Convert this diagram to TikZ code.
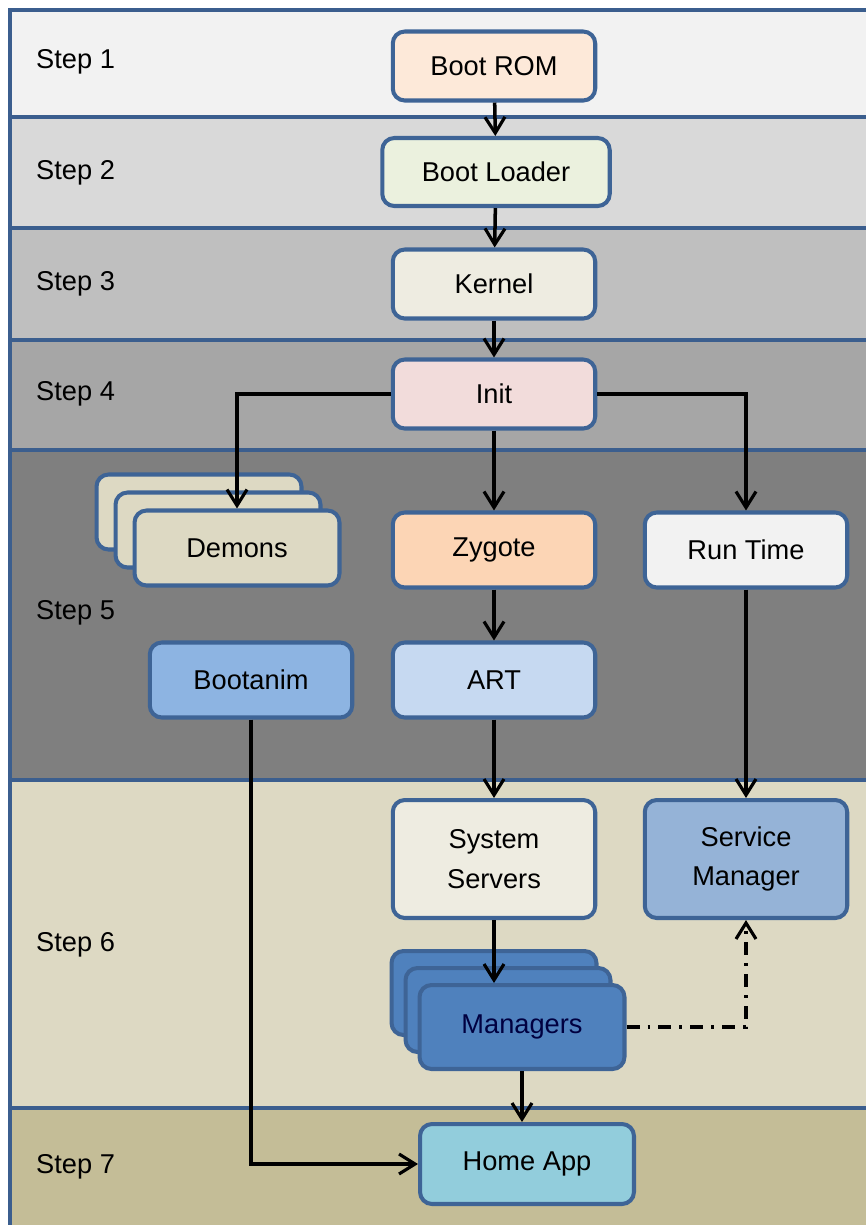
\documentclass[tikz,border=0pt]{standalone}
\usepackage{fontspec}
\setmainfont{Liberation Sans}
\usetikzlibrary{arrows.meta,positioning}

\definecolor{bandline}{HTML}{3B5E8E}
\definecolor{boxline}{HTML}{3E6496}
\definecolor{bandA}{HTML}{F2F2F2}
\definecolor{bandB}{HTML}{D9D9D9}
\definecolor{bandC}{HTML}{BFBFBF}
\definecolor{bandD}{HTML}{A6A6A6}
\definecolor{bandE}{HTML}{7F7F7F}
\definecolor{bandF}{HTML}{DDD9C3}
\definecolor{bandG}{HTML}{C4BD97}
\definecolor{bootromfill}{HTML}{FDE9D9}
\definecolor{loaderfill}{HTML}{EBF1DE}
\definecolor{kernelfill}{HTML}{EEECE1}
\definecolor{initfill}{HTML}{F2DCDB}
\definecolor{zygotefill}{HTML}{FCD5B5}
\definecolor{bootanimfill}{HTML}{8DB4E2}
\definecolor{artfill}{HTML}{C6D9F1}
\definecolor{servicefill}{HTML}{95B3D7}
\definecolor{managerfill}{HTML}{4F81BD}
\definecolor{homefill}{HTML}{92CDDC}

\begin{document}
\begin{tikzpicture}[
    x=0.02cm, y=-0.02cm,
    box/.style={draw=boxline, line width=2.3pt, rounded corners=0.24cm, minimum width=4.05cm, minimum height=1.5cm, align=center, inner sep=2pt, font=\fontsize{15.5}{22.5}\selectfont},
    steplabel/.style={anchor=west, font=\fontsize{15.5}{17}\selectfont},
    band/.style={draw=bandline, line width=2.6pt},
    flow/.style={-{Straight Barb[length=3.2mm,width=4mm,line width=1.8pt]}, line width=2pt}
]
\useasboundingbox (0,0) rectangle (866,1225);
\fill[white] (0,0) rectangle (866,1225);

% Bands
\draw[band, fill=bandA] (10,10) rectangle (890,117);
\draw[band, fill=bandB] (10,117) rectangle (890,228);
\draw[band, fill=bandC] (10,228) rectangle (890,340);
\draw[band, fill=bandD] (10,340) rectangle (890,450);
\draw[band, fill=bandE] (10,450) rectangle (890,780);
\draw[band, fill=bandF] (10,780) rectangle (890,1108);
\draw[band, fill=bandG] (10,1108) rectangle (890,1250);

\node[steplabel] (s1) at (30,62) {Step 1};
\node[steplabel] (s2) at (30,173) {Step 2};
\node[steplabel] (s3) at (30,284) {Step 3};
\node[steplabel] (s4) at (30,394) {Step 4};
\node[steplabel] (s5) at (30,613) {Step 5};
\node[steplabel] (s6) at (30,945) {Step 6};
\node[steplabel] (s7) at (30,1167) {Step 7};

% Steps 1-4
\node[box, fill=bootromfill, minimum height=1.38cm] (bootrom) at (494,66) {Boot ROM};
\node[box, fill=loaderfill, minimum width=4.55cm, minimum height=1.36cm] (bootloader) at (496,172) {Boot Loader};
\node[box, fill=kernelfill, minimum height=1.38cm] (kernel) at (494,284) {Kernel};
\node[box, fill=initfill, minimum height=1.38cm] (init) at (494,394) {Init};

% Step 5
\node[box, fill=bandF, minimum width=4.1cm] (demonsbackB) at (199,512) {};
\node[box, fill=bandF, minimum width=4.1cm] (demonsbackA) at (218,530) {};
\node[box, fill=bandF, minimum width=4.1cm] (demons) at (237,548) {Demons};
\node[box, fill=zygotefill] (zygote) at (494,550) {Zygote};
\node[box, fill=bandA] (runtime) at (746,550) {Run Time};
\node[box, fill=bootanimfill] (bootanim) at (251,680) {Bootanim};
\node[box, fill=artfill] (art) at (494,680) {ART};

% Step 6
\node[box, fill=kernelfill, minimum height=2.36cm] (sysservers) at (494,859) {System\\Servers};
\node[box, fill=servicefill, minimum height=2.36cm] (servicemgr) at (746,859) {Service\\Manager};
\node[box, fill=managerfill, minimum width=4.1cm, minimum height=1.68cm] (managersbackB) at (494,993) {};
\node[box, fill=managerfill, minimum width=4.1cm, minimum height=1.68cm] (managersbackA) at (508,1010) {};
\node[box, fill=managerfill, minimum width=4.1cm, minimum height=1.68cm, text=blue!25!black] (managers) at (522,1027) {Managers};

% Step 7
\node[box, fill=homefill, minimum width=4.28cm, minimum height=1.6cm] (homeapp) at (527,1164) {Home App};

% Arrows
\draw[flow] (bootrom) -- (bootloader);
\draw[flow] (bootloader) -- (kernel);
\draw[flow] (kernel) -- (init);
\draw[flow] (init.west) -| (demons.north);
\draw[flow] (init) -- (zygote);
\draw[flow] (init.east) -| (runtime.north);
\draw[flow] (zygote) -- (art);
\draw[flow] (art) -- (sysservers);
\draw[flow] (runtime) -- (servicemgr);
\draw[flow] (sysservers.south) -- (sysservers.south |- managers.north);
\draw[flow] (managers.south) -- (managers.south |- homeapp.north);
\draw[flow] (bootanim.south) |- (homeapp.west);
\draw[flow, dash pattern=on 0.26cm off 0.16cm on 0.06cm off 0.16cm] (managers.east) -| (servicemgr.south);

\end{tikzpicture}
\end{document}
